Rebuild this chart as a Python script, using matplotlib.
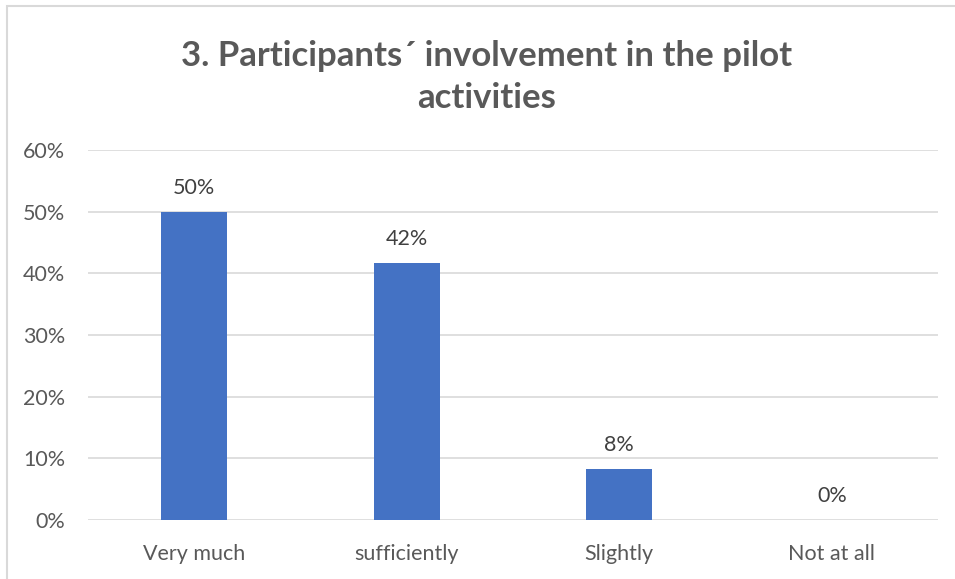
import matplotlib
matplotlib.use("Agg")
import matplotlib.pyplot as plt
from matplotlib.patches import Rectangle

categories = ["Very much", "sufficiently", "Slightly", "Not at all"]
values = [0.50, 0.4167, 0.0833, 0.0]
value_labels = ["50%", "42%", "8%", "0%"]
yticks = [0.0, 0.1, 0.2, 0.3, 0.4, 0.5, 0.6]
ytick_labels = ["0%", "10%", "20%", "30%", "40%", "50%", "60%"]
title = "3. Participants\u00b4 involvement in the pilot\nactivities"

plt.rcParams['font.family'] = ['Lato', 'DejaVu Sans']
W, H = 955, 579
fig = plt.figure(figsize=(W / 100, H / 100), dpi=100)
fig.patch.set_facecolor("white")

# chart border
fig.add_artist(Rectangle((7 / W, -0.1), 1.2, (1 - 6 / H) + 0.1, transform=fig.transFigure,
                         fill=False, edgecolor="#D9D9D9", linewidth=1.5))

ax = fig.add_axes([88 / W, 1 - 520 / H, (938 - 88) / W, (520 - 150) / H])
x = list(range(len(categories)))
ax.bar(x, values, width=0.31, color="#4472C4", zorder=3)
for xi, v, lab in zip(x, values, value_labels):
    ax.text(xi, v + 0.022, lab, ha="center", va="bottom", fontsize=15.5, color="#404040")

ax.set_xlim(-0.5, len(categories) - 0.5)
ax.set_ylim(0, 0.6)
ax.set_yticks(yticks)
ax.set_yticklabels(ytick_labels)
ax.set_xticks(x)
ax.set_xticklabels(categories)
ax.tick_params(axis="both", length=0, labelsize=15.5, colors="#595959")
ax.tick_params(axis="y", pad=16.5)
ax.tick_params(axis="x", pad=17)
ax.grid(axis="y", color="#D9D9D9", linewidth=1.2, zorder=0)
for s in ax.spines.values():
    s.set_visible(False)

fig.text(487 / W, 1 - 77 / H, title, ha="center", va="center", fontsize=25,
         fontweight="bold", color="#595959", linespacing=1.35)

fig.savefig("out.png", dpi=100)
